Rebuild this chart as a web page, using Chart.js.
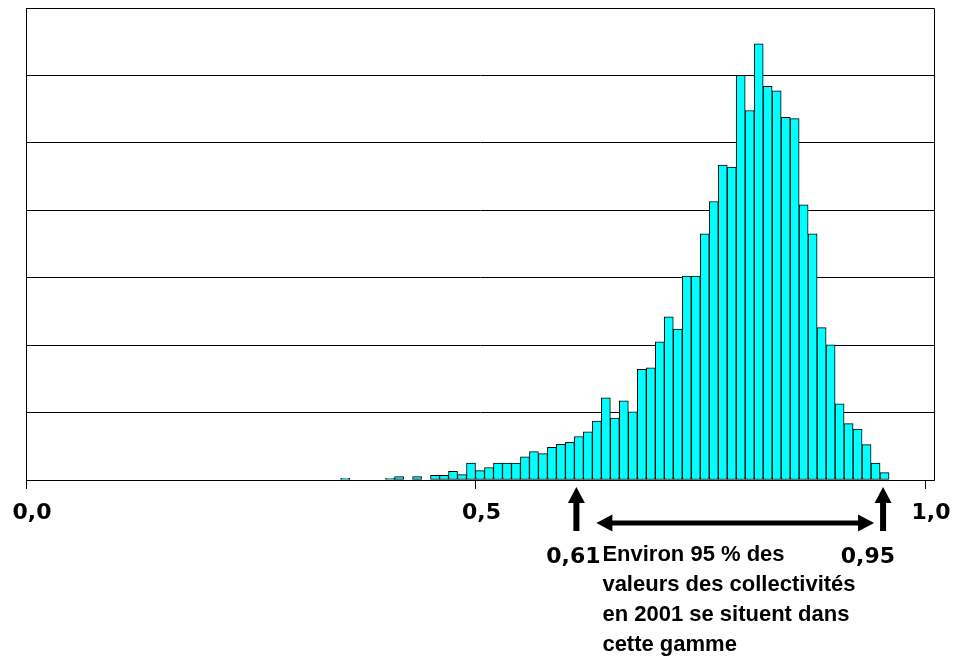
<!DOCTYPE html>
<html lang="fr">
<head>
<meta charset="utf-8">
<title>Distribution des valeurs des collectivités en 2001</title>
<script src="https://cdn.jsdelivr.net/npm/chart.js@4.4.1/dist/chart.umd.min.js"></script>
<style>
  html, body { margin: 0; padding: 0; background: #fff; }
  #chart { display: block; }
</style>
</head>
<body>
<canvas id="chart" width="955" height="657"></canvas>
<script>
// lower bound of each 0.01 class, and bar heights (gridline = 10)
const binStarts = [0.35, 0.40, 0.41, 0.43, 0.45, 0.46, 0.47, 0.48, 0.49,
  0.50, 0.51, 0.52, 0.53, 0.54, 0.55, 0.56, 0.57, 0.58, 0.59,
  0.60, 0.61, 0.62, 0.63, 0.64, 0.65, 0.66, 0.67, 0.68, 0.69,
  0.70, 0.71, 0.72, 0.73, 0.74, 0.75, 0.76, 0.77, 0.78, 0.79,
  0.80, 0.81, 0.82, 0.83, 0.84, 0.85, 0.86, 0.87, 0.88, 0.89,
  0.90, 0.91, 0.92, 0.93, 0.94, 0.95];
const counts = [0.25, 0.25, 0.5, 0.5, 0.7, 0.7, 1.3, 0.8, 2.5,
  1.4, 1.85, 2.5, 2.5, 2.5, 3.45, 4.2, 3.9, 4.85, 5.3,
  5.6, 6.45, 7.15, 8.75, 12.2, 9.2, 11.75, 10.1, 16.4, 16.65,
  20.5, 24.2, 22.4, 30.25, 30.25, 36.5, 41.3, 46.7, 46.4, 60.0,
  54.8, 64.7, 58.4, 57.7, 53.8, 53.6, 40.8, 36.5, 22.6, 20.05,
  11.3, 8.35, 7.55, 5.25, 2.5, 1.1];
const binWidth = 0.01;

const xTicks = [0, 0.5, 1.0];
const xMax = 1.01;
const yMax = 70;
const yStep = 10;

// the 95 % range marked under the axis
const rangeLow = 0.61;
const rangeHigh = 0.95;
const rangeLabels = ['0,61', '0,95'];
const noteLines = ['Environ 95 % des', 'valeurs des collectivités', 'en 2001 se situent dans', 'cette gamme'];

const numFont = 'bold 22px "DejaVu Sans", Verdana, sans-serif';
const noteFont = 'bold 22px "Liberation Sans", Arial, sans-serif';

function upArrow(ctx, cx, tipY, bottomY) {
    ctx.fillRect(cx - 3, tipY + 14, 6, bottomY - tipY - 14);
    ctx.beginPath();
    ctx.moveTo(cx, tipY);
    ctx.lineTo(cx - 8.5, tipY + 16);
    ctx.lineTo(cx + 8.5, tipY + 16);
    ctx.closePath();
    ctx.fill();
}

function doubleArrow(ctx, x1, x2, y) {
    ctx.fillRect(x1 + 14, y - 2.5, x2 - x1 - 28, 5);
    ctx.beginPath();
    ctx.moveTo(x1, y);
    ctx.lineTo(x1 + 16, y - 8.5);
    ctx.lineTo(x1 + 16, y + 8.5);
    ctx.closePath();
    ctx.fill();
    ctx.beginPath();
    ctx.moveTo(x2, y);
    ctx.lineTo(x2 - 16, y - 8.5);
    ctx.lineTo(x2 - 16, y + 8.5);
    ctx.closePath();
    ctx.fill();
}

// frame of the plot area + the arrows and text under the axis
const notesPlugin = {
    id: 'notes',
    afterDraw(chart) {
        const { ctx, chartArea, scales } = chart;
        const base = chartArea.bottom;
        const lowX = scales.x.getPixelForValue(rangeLow);
        const highX = scales.x.getPixelForValue(rangeHigh);

        ctx.save();
        ctx.strokeStyle = '#000';
        ctx.lineWidth = 1;
        ctx.beginPath();
        ctx.moveTo(chartArea.left, Math.round(chartArea.top) + 0.5);
        ctx.lineTo(Math.round(chartArea.right) + 0.5, Math.round(chartArea.top) + 0.5);
        ctx.lineTo(Math.round(chartArea.right) + 0.5, Math.round(base) + 0.5);
        ctx.stroke();

        ctx.fillStyle = '#000';
        upArrow(ctx, lowX + 2, base + 7, base + 51);
        upArrow(ctx, highX + 3, base + 7, base + 51);
        doubleArrow(ctx, lowX + 22, highX - 6, base + 43);

        ctx.font = numFont;
        ctx.textBaseline = 'alphabetic';
        ctx.textAlign = 'center';
        ctx.fillText(rangeLabels[0], lowX - 1, base + 83);
        ctx.textAlign = 'right';
        ctx.fillText(rangeLabels[1], highX + 15, base + 83);

        ctx.font = noteFont;
        ctx.textAlign = 'left';
        noteLines.forEach((line, i) => {
            ctx.fillText(line, lowX + 28, base + 81 + i * 30);
        });
        ctx.restore();
    }
};

const points = binStarts.map((b, i) => ({ x: b + binWidth / 2, y: counts[i] }));

const ctx = document.getElementById('chart').getContext('2d');
const chart = new Chart(ctx, {
    type: 'bar',
    data: {
        datasets: [{
            data: points,
            backgroundColor: '#00FFFF',
            borderColor: '#000000',
            borderWidth: 1,
            borderSkipped: false,
            barPercentage: 1.0,
            categoryPercentage: 1.0
        }]
    },
    options: {
        responsive: false,
        animation: false,
        layout: { padding: { left: 26, right: 21, top: 8, bottom: 0 } },
        plugins: {
            legend: { display: false },
            tooltip: { enabled: false }
        },
        scales: {
            x: {
                type: 'linear',
                min: 0,
                max: xMax,
                offset: false,
                afterBuildTicks: scale => {
                    scale.ticks = xTicks.map(v => ({ value: v }));
                },
                afterFit: scale => {
                    scale.height = 177;
                    scale.paddingLeft = 0;
                    scale.paddingRight = 0;
                },
                grid: {
                    display: true,
                    offset: false,
                    drawOnChartArea: false,
                    drawTicks: true,
                    tickLength: 9,
                    color: '#000'
                },
                border: { display: true, color: '#000', width: 1 },
                ticks: {
                    color: '#000',
                    font: { family: '"DejaVu Sans", Verdana, sans-serif', size: 22, weight: 'bold' },
                    padding: 11,
                    labelOffset: 6,
                    maxRotation: 0,
                    callback: v => v.toFixed(1).replace('.', ',')
                }
            },
            y: {
                min: 0,
                max: yMax,
                afterFit: scale => { scale.width = 0; },
                ticks: { display: false, stepSize: yStep },
                grid: { color: '#000', lineWidth: 1, drawTicks: false },
                border: { display: true, color: '#000', width: 1 }
            }
        }
    },
    plugins: [notesPlugin]
});
</script>
</body>
</html>
